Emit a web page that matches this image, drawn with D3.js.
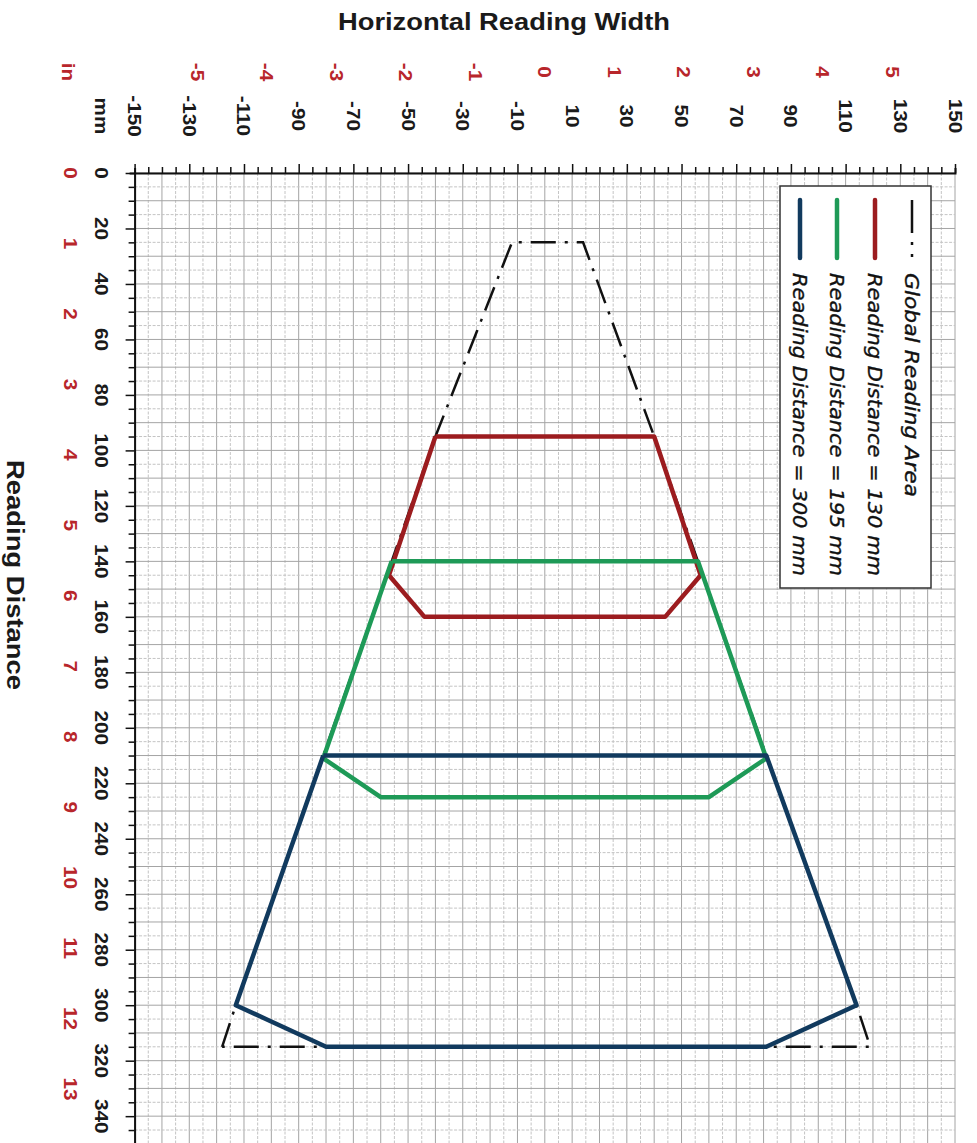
<!DOCTYPE html>
<html><head><meta charset="utf-8">
<script src="https://cdn.jsdelivr.net/npm/d3@7"></script>
<style>
html,body{margin:0;padding:0;background:#fff;}
svg{display:block;}
</style></head>
<body>
<script>
// ---- data ----
const xTickLabelsMm = [-150,-130,-110,-90,-70,-50,-30,-10,10,30,50,70,90,110,130,150];
const yTickLabelsMm = [0,20,40,60,80,100,120,140,160,180,200,220,240,260,280,300,320,340];
const xTickLabelsIn = [-5,-4,-3,-2,-1,0,1,2,3,4,5];
const yTickLabelsIn = [0,1,2,3,4,5,6,7,8,9,10,11,12,13];
const seriesNames = ["Global Reading Area","Reading Distance = 130 mm","Reading Distance = 195 mm","Reading Distance = 300 mm"];
// points: [width mm, distance mm]
const globalArea = [[-118,315],[-113,300],[-81,210],[-56,140],[-40,95],[-12,25],[14,25],[40,95],[56,140],[81,210],[114,300],[119,315],[-118,315]];
const rd130 = [[-40,95],[-57,145],[-44,160],[44,160],[57,145],[40,95],[-40,95]];
const rd195 = [[-56,140],[-81,211],[-60,225],[60,225],[81,211],[56,140],[-56,140]];
const rd300 = [[-81,210],[-113,300],[-80,315],[81,315],[114,300],[81,210],[-81,210]];

const W=977,H=1143;
const svg=d3.select("body").append("svg").attr("width",W).attr("height",H);
const x=d3.scaleLinear().domain([-150,150]).range([134.6,955]);
const y=d3.scaleLinear().domain([0,350]).range([173,173+350*2.774]);

// grid
const g=svg.append("g");
const gridX=d3.range(-150,151,5), gridY=d3.range(0,351,5);
g.selectAll("line.gx").data(gridX).join("line")
 .attr("x1",d=>x(d)).attr("x2",d=>x(d)).attr("y1",y(0)).attr("y2",y(350))
 .attr("stroke",d=>((d+150)%10===0)?"#a4a4a4":"#c4c4c4").attr("stroke-width",1)
 .attr("stroke-dasharray",d=>((d+150)%10===0)?null:"3,1.5");
g.selectAll("line.gy").data(gridY).join("line")
 .attr("y1",d=>y(d)).attr("y2",d=>y(d)).attr("x1",x(-150)).attr("x2",x(150))
 .attr("stroke",d=>(d%10===0)?"#a4a4a4":"#c4c4c4").attr("stroke-width",1)
 .attr("stroke-dasharray",d=>(d%10===0)?null:"3,1.5");

// axes
const xAxis=d3.axisTop(x).tickValues(d3.range(-150,151,5)).tickSize(5).tickFormat("");
const ax=svg.append("g").attr("transform",`translate(0,${y(0)})`).call(xAxis);
ax.selectAll(".tick line").attr("stroke","#111").attr("stroke-width",1.5)
  .attr("y2",d=>((d+150)%20===0)?-9:-6);
ax.select(".domain").attr("stroke","#111").attr("stroke-width",2);
const yAxis=d3.axisLeft(y).tickValues(d3.range(0,351,5)).tickSize(5).tickFormat("");
const ay=svg.append("g").attr("transform",`translate(${x(-150)},0)`).call(yAxis);
ay.selectAll(".tick line").attr("stroke","#111").attr("stroke-width",1.5)
  .attr("x2",d=>(d%20===0)?-9:-6);
ay.select(".domain").attr("stroke","#111").attr("stroke-width",2);

// rotated labels (text runs top-to-bottom)
function rlabel(px,py,txt,opts){
  const k=opts.stretch||1;
  return svg.append("text").attr("transform",`translate(${px},${py}) rotate(90) scale(${k},1)`)
   .attr("text-anchor","middle").attr("dominant-baseline","central")
   .attr("font-family","'Liberation Sans',Arial,sans-serif")
   .attr("font-weight","bold").attr("font-size",opts.size||18)
   .attr("fill",opts.color||"#1a1a1a").text(txt);
}
const red="#b8262b";
xTickLabelsMm.forEach(v=>rlabel(x(v),116,v,{stretch:1.15}));
yTickLabelsMm.forEach(v=>rlabel(101,y(v),v,{stretch:1.15}));
xTickLabelsIn.forEach(v=>rlabel(x(v*25.4),72,v,{color:red,stretch:1.15}));
yTickLabelsIn.forEach(v=>rlabel(70,y(v*25.4),v,{color:red,stretch:1.15}));
rlabel(101,116,"mm",{stretch:1.15});
rlabel(68,72,"in",{color:red,stretch:1.15});

svg.append("text").attr("x",504).attr("y",22).attr("text-anchor","middle").attr("dominant-baseline","central")
 .attr("font-family","'Liberation Sans',Arial,sans-serif").attr("font-weight","bold").attr("font-size",23)
 .attr("textLength",332).attr("lengthAdjust","spacingAndGlyphs")
 .attr("fill","#1a1a1a").text("Horizontal Reading Width");
svg.append("text").attr("transform","translate(15,575) rotate(90)")
 .attr("text-anchor","middle").attr("dominant-baseline","central")
 .attr("font-family","'Liberation Sans',Arial,sans-serif").attr("font-weight","bold").attr("font-size",23)
 .attr("textLength",230).attr("lengthAdjust","spacingAndGlyphs")
 .attr("fill","#1a1a1a").text("Reading Distance");

// lines
const line=d3.line().x(d=>x(d[0])).y(d=>y(d[1]));
svg.append("path").datum(globalArea).attr("d",line).attr("fill","none")
 .attr("stroke","#111").attr("stroke-width",2.5).attr("stroke-dasharray","25,9,3,9");
const colors=["#111","#9c1c1f","#1e9a57","#113a5e"];
[[rd130,colors[1]],[rd195,colors[2]],[rd300,colors[3]]].forEach(([d,c])=>{
  svg.append("path").datum(d).attr("d",line).attr("fill","none")
   .attr("stroke",c).attr("stroke-width",4.5).attr("stroke-linejoin","round");
});

// legend
const lg=svg.append("g");
lg.append("rect").attr("x",780).attr("y",186).attr("width",151).attr("height",402)
 .attr("fill","#fff").attr("stroke","#333").attr("stroke-width",1.5);
const legX=[912,875,837,800];
const legLen=[224,303,303,303];
seriesNames.forEach((n,i)=>{
  const lx=legX[i];
  lg.append("line").attr("x1",lx).attr("x2",lx).attr("y1",200).attr("y2",i===0?257:258)
   .attr("stroke",colors[i]).attr("stroke-width",i===0?2.5:4.5)
   .attr("stroke-dasharray",i===0?"33,9,3,9":null).attr("stroke-linecap",i===0?"butt":"round");
  lg.append("text").attr("transform",`translate(${lx},273) rotate(90)`)
   .attr("text-anchor","start").attr("dominant-baseline","central")
   .attr("font-family","'DejaVu Sans',sans-serif").attr("font-style","italic")
   .attr("font-size",20).attr("fill","#111").attr("stroke","#111").attr("stroke-width",0.35)
   .attr("textLength",legLen[i]).attr("lengthAdjust","spacingAndGlyphs").text(n);
});
</script>
</body></html>
